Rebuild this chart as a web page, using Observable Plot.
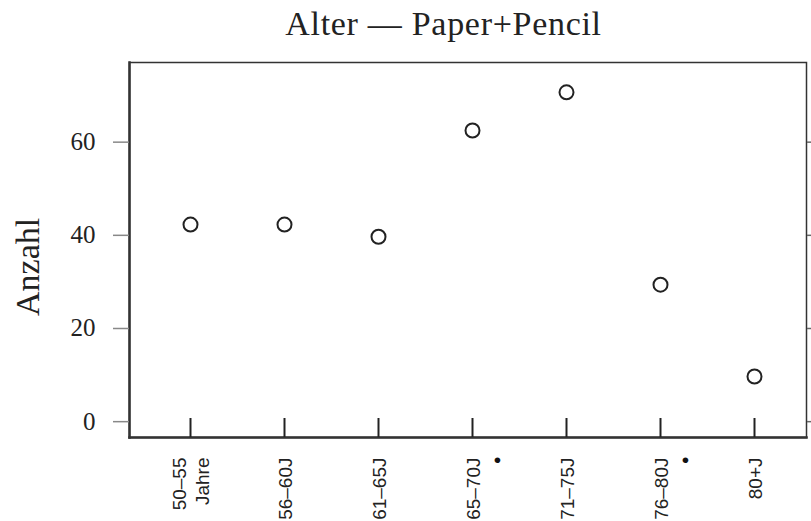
<!DOCTYPE html>
<html>
<head>
<meta charset="utf-8">
<script src="https://cdn.jsdelivr.net/npm/d3@7"></script>
<script src="https://cdn.jsdelivr.net/npm/@observablehq/plot@0.6"></script>
<style>
  html, body { margin: 0; padding: 0; background: #fff; }
  #title { height: 52px; box-sizing: border-box; padding-left: 76px; padding-top: 3.5px;
    font-family: "Liberation Serif", "DejaVu Serif", serif; font-size: 34px; color: #222;
    letter-spacing: 0.7px; text-align: center; line-height: 40px; white-space: nowrap; }
  svg { display: block; }
</style>
</head>
<body>
<div id="title">Alter — Paper+Pencil</div>
<div id="chart"></div>
<script>
const categories = ["50–55\nJahre", "56–60J", "61–65J", "65–70J", "71–75J", "76–80J", "80+J"];
const counts = [42.3, 42.3, 39.7, 62.5, 70.7, 29.4, 9.7];
const marked = ["65–70J", "76–80J"];
const yTicks = [0, 20, 40, 60];
const yLabel = "Anzahl";

const data = categories.map((c, i) => ({cat: c, n: counts[i]}));
const serif = "Liberation Serif, DejaVu Serif, serif";
const sans = "Liberation Sans, Arial, sans-serif";

const chart = Plot.plot({
  width: 811,
  height: 469,
  marginTop: 10,
  marginBottom: 84,
  marginLeft: 129,
  marginRight: 5,
  style: {background: "#fff", color: "#222"},
  x: {type: "point", domain: categories, padding: 0.58, align: 0.54, axis: null},
  y: {domain: [-3.4, 77.1], axis: null},
  marks: [
    Plot.frame({stroke: "#333", strokeWidth: 1.5}),
    Plot.frame({anchor: "left", stroke: "#333", strokeWidth: 2.5}),
    Plot.frame({anchor: "bottom", stroke: "#333", strokeWidth: 2.5}),
    Plot.axisY({ticks: yTicks, tickSize: 16, tickPadding: 18, fontSize: 25, fontFamily: serif,
      stroke: "#888", strokeWidth: 1.5, label: null}),
    Plot.axisY({anchor: "right", ticks: yTicks, tickSize: 4, tickFormat: () => "",
      stroke: "#666", strokeWidth: 1.5, label: null}),
    Plot.tickX(categories, {x: d => d, insetTop: 356, stroke: "#222", strokeWidth: 2}),
    Plot.text(categories, {x: d => d, text: d => d, frameAnchor: "bottom", dy: 20, rotate: -90,
      textAnchor: "end", lineAnchor: "middle", lineHeight: 1.2, fontSize: 19, fontFamily: sans, fill: "#222"}),
    Plot.text(marked, {x: d => d, text: () => "•", frameAnchor: "bottom", dx: 25, dy: 29,
      fontSize: 21, fontFamily: sans, fill: "#111"}),
    Plot.text([yLabel], {frameAnchor: "left", text: d => d, rotate: -90, dx: -101, dy: 66,
      fontSize: 34, fontFamily: serif, fill: "#222"}),
    Plot.dot(data, {x: "cat", y: "n", r: 7, stroke: "#222", strokeWidth: 2, fill: "none"})
  ]
});
document.getElementById("chart").appendChild(chart);
</script>
</body>
</html>
